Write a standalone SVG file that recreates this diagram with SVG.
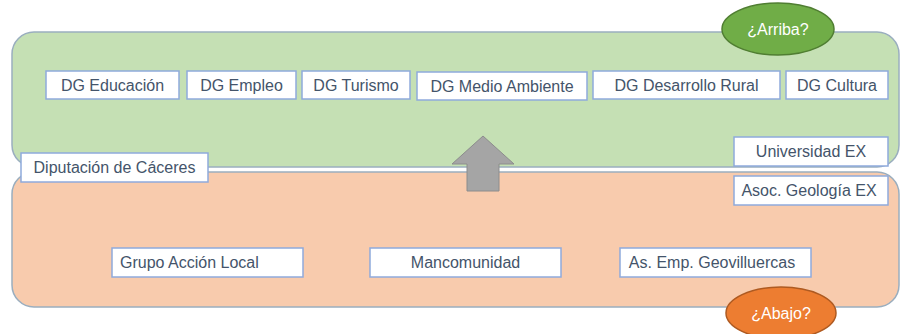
<svg xmlns="http://www.w3.org/2000/svg" width="901" height="334" viewBox="0 0 901 334">
<style>
.box{fill:#ffffff;stroke:#8faadc;stroke-width:1.5}
.t{font-family:"Liberation Sans",Arial,sans-serif;font-size:16px;fill:#44546a;text-anchor:middle}
.w{font-family:"Liberation Sans",Arial,sans-serif;font-size:16px;fill:#ffffff;text-anchor:middle}
</style>
<rect width="901" height="334" fill="#ffffff"/>
<g id="nivel-arriba"><rect x="12" y="32" width="887" height="135" rx="22" fill="#c5e0b4" stroke="#9aaebf" stroke-width="1.5"/></g>
<g id="nivel-abajo"><rect x="12" y="172" width="887" height="135" rx="22" fill="#f8cbad" stroke="#9aaebf" stroke-width="1.5"/></g>
<g id="connectors">
<path d="M467,164 L452,164 L483,136 L514,164 L499,164 L499,191 L467,191 Z" fill="#a5a5a5" stroke="#8c8c8c" stroke-width="1"/>
</g>
<g id="dg-educacion"><rect class="box" x="46" y="71" width="133" height="28"/><text class="t" x="112.5" y="91">DG Educación</text></g>
<g id="dg-empleo"><rect class="box" x="187" y="71" width="109" height="28"/><text class="t" x="241.5" y="91">DG Empleo</text></g>
<g id="dg-turismo"><rect class="box" x="302" y="71" width="108" height="28"/><text class="t" x="356" y="91">DG Turismo</text></g>
<g id="dg-medio-ambiente"><rect class="box" x="417" y="72" width="170" height="28"/><text class="t" x="502" y="92">DG Medio Ambiente</text></g>
<g id="dg-desarrollo-rural"><rect class="box" x="593" y="71" width="187" height="28"/><text class="t" x="686.5" y="91">DG Desarrollo Rural</text></g>
<g id="dg-cultura"><rect class="box" x="786" y="71" width="102" height="28"/><text class="t" x="837" y="91">DG Cultura</text></g>
<g id="universidad-ex"><rect class="box" x="734" y="137" width="154" height="29"/><text class="t" x="811" y="157">Universidad EX</text></g>
<g id="asoc-geologia-ex"><rect class="box" x="734" y="176" width="154" height="29"/><text class="t" x="809" y="196">Asoc. Geología EX</text></g>
<g id="diputacion"><rect class="box" x="21" y="153" width="187" height="29"/><text class="t" x="114.5" y="173">Diputación de Cáceres</text></g>
<g id="grupo-accion-local"><rect class="box" x="112" y="248" width="191" height="29"/><text class="t" x="120" y="268" style="text-anchor:start">Grupo Acción Local</text></g>
<g id="mancomunidad"><rect class="box" x="370" y="248" width="191" height="29"/><text class="t" x="465.5" y="268">Mancomunidad</text></g>
<g id="as-emp-geovilluercas"><rect class="box" x="620" y="248" width="191" height="29"/><text class="t" x="712" y="268">As. Emp. Geovilluercas</text></g>
<g id="arriba"><ellipse cx="778" cy="29" rx="56" ry="26" fill="#70ad47" stroke="#507e32" stroke-width="1.5"/><text class="w" x="778" y="35">¿Arriba?</text></g>
<g id="abajo"><ellipse cx="781" cy="313" rx="55" ry="26" fill="#ed7d31" stroke="#ae5a21" stroke-width="1.5"/><text class="w" x="781" y="319">¿Abajo?</text></g>
</svg>
